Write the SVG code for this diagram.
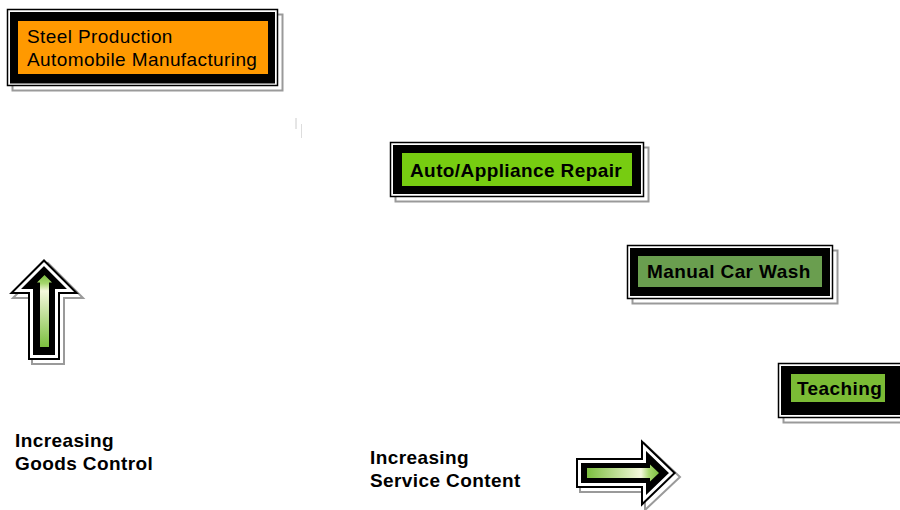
<svg xmlns="http://www.w3.org/2000/svg" width="900" height="510" viewBox="0 0 900 510">
<defs>
<style>
.shadow{fill:none;stroke:#9a9a9a;stroke-width:2}
.outer{fill:#fff;stroke:#000;stroke-width:1.5}
.frame{fill:#000}
.lbl{font-family:"Liberation Sans",Arial,sans-serif;font-size:19px;font-weight:bold;fill:#000;letter-spacing:0.4px}
.reg{font-family:"Liberation Sans",Arial,sans-serif;font-size:19px;fill:#000;letter-spacing:0.4px}
.arrOut{fill:#000;stroke:#000;stroke-width:7;stroke-linejoin:miter;stroke-miterlimit:10}
.arrGap{fill:none;stroke:#fff;stroke-width:3;stroke-linejoin:miter;stroke-miterlimit:10}
.arrShadow{fill:none;stroke:#9a9a9a;stroke-width:2;stroke-linejoin:miter;stroke-miterlimit:10}
</style>
<linearGradient id="gUp" x1="0" y1="1" x2="0" y2="0">
<stop offset="0" stop-color="#7cbf3f"/>
<stop offset="0.78" stop-color="#f4f8dc"/>
<stop offset="0.88" stop-color="#a8d870"/>
<stop offset="1" stop-color="#7cbf3f"/>
</linearGradient>
<linearGradient id="gRight" x1="0" y1="0" x2="1" y2="0">
<stop offset="0" stop-color="#7cbf3f"/>
<stop offset="0.75" stop-color="#f4f8dc"/>
<stop offset="0.86" stop-color="#a8d870"/>
<stop offset="1" stop-color="#7cbf3f"/>
</linearGradient>
<path id="upP" d="M44,264 L70.5,290.5 L56.5,290.5 L56.5,356.5 L31.5,356.5 L31.5,290.5 L17.5,290.5 Z"/>
<path id="upO" d="M44,259 L79,294 L60,294 L60,360 L28,360 L28,294 L9,294 Z"/>
<path id="rtP" d="M579.5,461.5 L644.5,461.5 L644.5,447.5 L671,473 L644.5,498.5 L644.5,484.5 L579.5,484.5 Z"/>
<path id="rtO" d="M576,458 L641,458 L641,440 L676,473 L641,506 L641,488 L576,488 Z"/>
</defs>
<rect width="900" height="510" fill="#fff"/>

<g id="artifact">
<line x1="296" y1="118" x2="296" y2="129" stroke="#cccccc" stroke-width="1"/>
<line x1="301.5" y1="124" x2="301.5" y2="138" stroke="#dddddd" stroke-width="1"/>
</g>

<g id="node-steel">
<rect class="shadow" x="12.5" y="14.5" width="270" height="76"/>
<rect class="outer" x="7.5" y="9.5" width="270" height="76"/>
<rect class="frame" x="10" y="12" width="265" height="71.5"/>
<rect x="18" y="21" width="250" height="53" fill="#ff9900"/>
<text class="reg" x="27" y="43">Steel Production</text>
<text class="reg" x="27" y="66">Automobile Manufacturing</text>
</g>

<g id="node-repair">
<rect class="shadow" x="395.5" y="147.5" width="253" height="54"/>
<rect class="outer" x="390.5" y="142.5" width="253" height="54"/>
<rect class="frame" x="393" y="145" width="248" height="49"/>
<rect x="402" y="153" width="230" height="33" fill="#77cc11"/>
<text class="lbl" x="410" y="177">Auto/Appliance Repair</text>
</g>

<g id="node-carwash">
<rect class="shadow" x="632.5" y="250.5" width="205" height="53"/>
<rect class="outer" x="627.5" y="245.5" width="205" height="53"/>
<rect class="frame" x="630" y="248" width="200" height="48"/>
<rect x="638" y="256" width="184" height="31" fill="#6a9e4f"/>
<text class="lbl" x="647" y="278">Manual Car Wash</text>
</g>

<g id="node-teaching">
<rect class="shadow" x="783.5" y="368.5" width="130" height="54"/>
<rect class="outer" x="778.5" y="363.5" width="130" height="54"/>
<rect class="frame" x="781" y="366" width="125" height="49"/>
<rect x="791" y="374" width="94" height="28" fill="#7bbb35"/>
<text class="lbl" x="797" y="395">Teaching</text>
</g>

<g id="arrow-up">
<use href="#upO" class="arrShadow" transform="translate(4,4)"/>
<use href="#upP" class="arrOut"/>
<use href="#upP" class="arrGap"/>
<path d="M44.5,275 L52,282.5 L49,282.5 L49,347 L40,347 L40,282.5 L37,282.5 Z" fill="url(#gUp)"/>
</g>

<g id="arrow-right">
<use href="#rtO" class="arrShadow" transform="translate(4,4)"/>
<use href="#rtP" class="arrOut"/>
<use href="#rtP" class="arrGap"/>
<path d="M587,468 L650,468 L650,464.5 L659,473 L650,481.5 L650,478 L587,478 Z" fill="url(#gRight)"/>
</g>

<g id="label-goods">
<text class="lbl" x="15" y="447">Increasing</text>
<text class="lbl" x="15" y="470">Goods Control</text>
</g>

<g id="label-service">
<text class="lbl" x="370" y="464">Increasing</text>
<text class="lbl" x="370" y="487">Service Content</text>
</g>

<g id="connectors"></g>
</svg>
